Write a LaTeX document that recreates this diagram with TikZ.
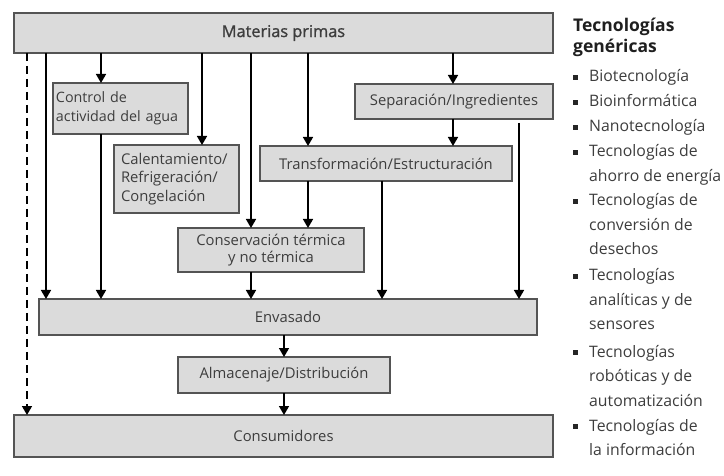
\documentclass[tikz,border=0pt]{standalone}
\usepackage{fontspec}
\setmainfont{Open Sans}
\newfontfamily\semifont[FakeBold=1.2]{Open Sans}
\usepackage{tikz}
\usetikzlibrary{arrows.meta}
\definecolor{boxgray}{gray}{0.86}
\definecolor{edgegray}{gray}{0.33}
\definecolor{txtgray}{gray}{0.24}

\begin{document}
\begin{tikzpicture}[x=1pt,y=-1pt,
    box/.style={draw=edgegray, fill=boxgray, line width=1.3pt, outer sep=0pt, inner sep=0pt,
      anchor=north west, align=center, text=txtgray, font=\fontsize{14.8}{18.5}\selectfont},
    flow/.style={line width=1.5pt, -{Triangle[width=10pt,length=9pt]}},
    item/.style={anchor=base west, inner sep=0pt, text=txtgray,
      font=\fontsize{15.8}{24.5}\selectfont},
    dot/.style={fill=black!85, minimum size=4.5pt, inner sep=0pt}]
      \useasboundingbox (0,0) rectangle (724,476);
      % boxes
      \node[box, minimum width=539, minimum height=40, font=\semifont\fontsize{16.3}{19}\selectfont] (mp) at (14,13) {Materias primas};
      \node[box, minimum width=135, minimum height=51, text width=129, align=left, font=\fontsize{14.3}{19}\selectfont] (ctrl) at (53,83) {Control de\\actividad del agua};
      \node[box, minimum width=125, minimum height=68, text width=111, align=left] (cal) at (114,145) {Calentamiento/\\Refrigeración/\\Congelación};
      \node[box, minimum width=198, minimum height=35] (sep) at (355,84) {Separación/Ingredientes};
      \node[box, minimum width=252, minimum height=35] (trans) at (260,146) {Transformación/Estructuración};
      \node[box, minimum width=186, minimum height=44, font=\fontsize{14.8}{17}\selectfont] (cons) at (178,228) {Conservación térmica\\y no térmica};
      \node[box, minimum width=498, minimum height=36] (env) at (39,299) {Envasado};
      \node[box, minimum width=212, minimum height=36] (alm) at (178,357) {Almacenaje/Distribución};
      \node[box, minimum width=539, minimum height=42] (cus) at (14,415) {Consumidores};
      % columns of the arrows
      \coordinate (k0) at (27,0);
      \coordinate (k1) at (46,0);
      \coordinate (k2) at (101,0);
      \coordinate (k3) at (202,0);
      \coordinate (k4) at (251,0);
      \coordinate (k5) at (308,0);
      \coordinate (k6) at (453,0);
      \coordinate (k7) at (382,0);
      \coordinate (k8) at (519,0);
      \coordinate (k9) at (284,0);
      % arrows
      \draw[flow, dash pattern=on 8pt off 5pt] (mp.south -| k0) -- (cus.north -| k0);
      \draw[flow] (mp.south -| k1) -- (env.north -| k1);
      \draw[flow] (mp.south -| k2) -- (ctrl.north -| k2);
      \draw[flow] (ctrl.south -| k2) -- (env.north -| k2);
      \draw[flow] (mp.south -| k3) -- (cal.north -| k3);
      \draw[flow] (mp.south -| k4) -- (cons.north -| k4);
      \draw[flow] (mp.south -| k5) -- (trans.north -| k5);
      \draw[flow] (mp.south -| k6) -- (sep.north -| k6);
      \draw[flow] (sep.south -| k6) -- (trans.north -| k6);
      \draw[flow, shorten <=4pt] (sep.south -| k8) -- (env.north -| k8);
      \draw[flow] (trans.south -| k5) -- (cons.north -| k5);
      \draw[flow] (trans.south -| k7) -- (env.north -| k7);
      \draw[flow] (cons.south -| k4) -- (env.north -| k4);
      \draw[flow] (env.south -| k9) -- (alm.north -| k9);
      \draw[flow] (alm.south -| k9) -- (cus.north -| k9);
      % list on the right
      \node[anchor=base west, inner sep=0pt, text=black!88,
        font=\bfseries\fontsize{17.5}{21}\selectfont] (head) at (573,32)
        {\begin{tabular}[t]{@{}l@{}}Tecnologías\\genéricas\end{tabular}};
      \node[dot] (d1) at (575.5,77.5) {};
      \node[item] (t1) at (589,82) {Biotecnología};
      \node[dot] (d2) at (575.5,102.5) {};
      \node[item] (t2) at (589,107) {Bioinformática};
      \node[dot] (d3) at (575.5,127.5) {};
      \node[item] (t3) at (589,132) {Nanotecnología};
      \node[dot] (d4) at (575.5,152.5) {};
      \node[item] (t4) at (589,157) {\begin{tabular}[t]{@{}l@{}}Tecnologías de\\ahorro de energía\end{tabular}};
      \node[dot] (d5) at (575.5,201.5) {};
      \node[item] (t5) at (589,206) {\begin{tabular}[t]{@{}l@{}}Tecnologías de\\conversión de\\desechos\end{tabular}};
      \node[dot] (d6) at (575.5,276.5) {};
      \node[item] (t6) at (589,281) {\begin{tabular}[t]{@{}l@{}}Tecnologías\\analíticas y de\\sensores\end{tabular}};
      \node[dot] (d7) at (575.5,352.5) {};
      \node[item] (t7) at (589,357) {\begin{tabular}[t]{@{}l@{}}Tecnologías\\robóticas y de\\automatización\end{tabular}};
      \node[dot] (d8) at (575.5,426.5) {};
      \node[item] (t8) at (589,431) {\begin{tabular}[t]{@{}l@{}}Tecnologías de\\la información\end{tabular}};
    \end{tikzpicture}
\end{document}
